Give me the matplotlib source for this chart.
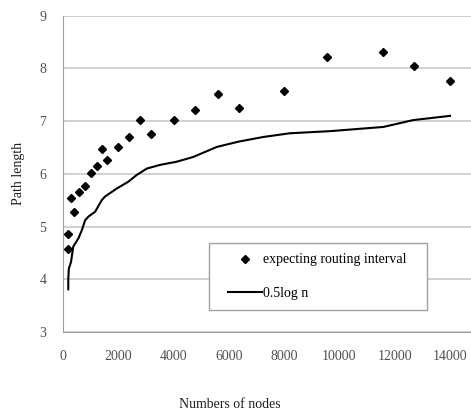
import numpy as np
import matplotlib.pyplot as plt
from matplotlib.lines import Line2D
from matplotlib.legend_handler import HandlerLine2D

# puntos medidos (expecting routing interval)
nodos = [190, 190, 410, 290, 590, 800, 1000, 1220, 1400, 1600, 2000, 2390,
         2800, 3170, 4000, 4780, 5600, 6360, 8000, 9540, 11590, 12710, 14000]
intervalo = [4.58, 4.85, 5.28, 5.55, 5.65, 5.77, 6.01, 6.15, 6.48, 6.27, 6.50, 6.69,
             7.02, 6.76, 7.02, 7.22, 7.52, 7.24, 7.58, 8.22, 8.31, 8.04, 7.76]

# curva 0.5log n
nodos_log = [190, 190, 210, 290, 370, 560, 680, 800, 920, 1160, 1400, 1520, 1940,
             2360, 2670, 3030, 3510, 4110, 4710, 5560, 6340, 7250, 8210, 9660,
             11590, 12670, 14000]
curva_log = [3.81, 4.00, 4.20, 4.33, 4.62, 4.78, 4.93, 5.12, 5.19, 5.28, 5.50, 5.57,
             5.72, 5.85, 5.98, 6.10, 6.17, 6.23, 6.32, 6.51, 6.61, 6.70, 6.77, 6.81,
             6.89, 7.02, 7.10]

xticks = [0, 2000, 4000, 6000, 8000, 10000, 12000, 14000]
yticks = [3, 4, 5, 6, 7, 8, 9]

plt.rcParams['font.family'] = ['Liberation Serif', 'DejaVu Serif']
plt.rcParams['font.size'] = 10

fig = plt.figure(figsize=(4.71, 4.11), dpi=100)
ax = fig.add_axes([0.1338, 0.1922, 0.8662, 0.7696])

ax.plot(nodos, intervalo, linestyle='none', marker='D', markersize=3.6,
        color='black', label='expecting routing interval', zorder=3)
ax.plot(nodos_log, curva_log, color='black', linewidth=1.5, label='0.5log n', zorder=3)

ax.set_xlim(0, 14760)
ax.set_ylim(3, 9)
ax.set_xticks(xticks)
ax.set_yticks(yticks)
ax.tick_params(length=0, colors='#505050', labelsize=10)
ax.tick_params(axis='x', pad=13)
ax.tick_params(axis='y', pad=12)
ax.grid(axis='y', color='#c8c8c8', linewidth=1.2)
ax.set_axisbelow(True)
for s in ['top', 'right']:
    ax.spines[s].set_visible(False)
for s in ['left', 'bottom']:
    ax.spines[s].set_color('#a0a0a0')

ax.set_ylabel('Path length', color='#202020', labelpad=10)
fig.text(0.487, 0.017, 'Numbers of nodes', ha='center', va='center', color='#202020', fontsize=10)

leg = ax.legend(loc='lower left', bbox_to_anchor=(0.358, 0.0696, 0.534, 0.208),
                mode='expand', fancybox=False, framealpha=1, edgecolor='#a0a0a0',
                handlelength=3.03, handletextpad=0.1, labelspacing=1.45,
                borderpad=0.75, borderaxespad=0,
                handler_map={Line2D: HandlerLine2D(xpad=0.58)})
leg.get_frame().set_linewidth(1.0)

plt.savefig('out.png', dpi=100)
